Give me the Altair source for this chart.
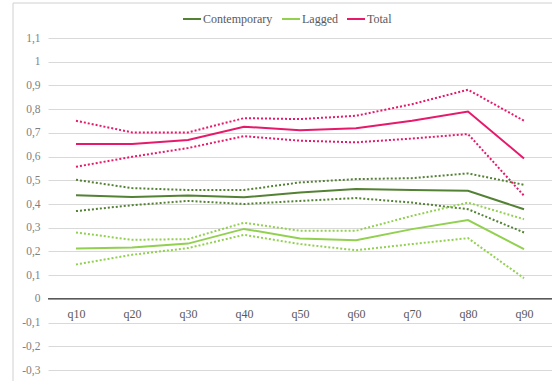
import altair as alt
import pandas as pd

quantiles = ["q10", "q20", "q30", "q40", "q50", "q60", "q70", "q80", "q90"]

# Point estimates
contemporary = [0.437, 0.430, 0.436, 0.428, 0.449, 0.463, 0.459, 0.456, 0.378]
lagged = [0.212, 0.217, 0.233, 0.295, 0.255, 0.247, 0.294, 0.332, 0.210]
total = [0.653, 0.653, 0.670, 0.726, 0.711, 0.719, 0.751, 0.790, 0.592]

# Confidence bounds
contemporary_hi = [0.502, 0.467, 0.459, 0.459, 0.491, 0.505, 0.509, 0.529, 0.481]
contemporary_lo = [0.370, 0.395, 0.413, 0.400, 0.413, 0.425, 0.406, 0.378, 0.280]
lagged_hi = [0.280, 0.249, 0.252, 0.321, 0.287, 0.287, 0.350, 0.406, 0.336]
lagged_lo = [0.145, 0.186, 0.214, 0.270, 0.231, 0.205, 0.231, 0.256, 0.087]
total_hi = [0.751, 0.702, 0.702, 0.762, 0.758, 0.772, 0.821, 0.882, 0.751]
total_lo = [0.557, 0.599, 0.636, 0.686, 0.667, 0.660, 0.676, 0.695, 0.435]

series_names = ["Contemporary", "Lagged", "Total"]
series_colors = ["#548235", "#92D050", "#E6196B"]
y_ticks = [-0.3, -0.2, -0.1, 0, 0.1, 0.2, 0.3, 0.4, 0.5, 0.6, 0.7, 0.8, 0.9, 1.0, 1.1]

rows = []
for name, est, hi, lo in [
    ("Contemporary", contemporary, contemporary_hi, contemporary_lo),
    ("Lagged", lagged, lagged_hi, lagged_lo),
    ("Total", total, total_hi, total_lo),
]:
    for q, e, h, l in zip(quantiles, est, hi, lo):
        rows.append({"q": q, "series": name, "band": "est", "value": e})
        rows.append({"q": q, "series": name, "band": "hi", "value": h})
        rows.append({"q": q, "series": name, "band": "lo", "value": l})
df = pd.DataFrame(rows)

FONT = "Liberation Serif, DejaVu Serif, serif"
GREY = "#595959"

x_axis = alt.Axis(
    title=None,
    labelAngle=0,
    ticks=False,
    domain=False,
    offset=-72,
    labelPadding=10,
    labelFont=FONT,
    labelFontSize=12,
    labelColor=GREY,
    labelOverlap=False,
    grid=False,
)
x_scale = alt.Scale(domain=quantiles, paddingInner=0, paddingOuter=0.5)
y_scale = alt.Scale(domain=[-0.3, 1.1], nice=False)
y_axis = alt.Axis(
    title=None,
    values=y_ticks,
    labelExpr="replace(toString(round(datum.value*10)/10), '.', ',')",
    labelOverlap=False,
    labelBound=False,
    ticks=False,
    domain=False,
    labelPadding=8,
    labelFont=FONT,
    labelFontSize=11.5,
    labelColor="#7F7F7F",
    gridColor="#D9D9D9",
    gridWidth=1,
)
color_scale = alt.Scale(domain=series_names, range=series_colors)

base = alt.Chart(df)

solid = base.transform_filter("datum.band == 'est'").mark_line(strokeWidth=2).encode(
    x=alt.X("q:N", scale=x_scale, axis=x_axis),
    y=alt.Y("value:Q", scale=y_scale, axis=y_axis),
    color=alt.Color(
        "series:N",
        scale=color_scale,
        sort=series_names,
        legend=alt.Legend(
            title=None,
            orient="none",
            direction="horizontal",
            legendX=134,
            legendY=-29,
            symbolType="stroke",
            symbolSize=324,
            symbolStrokeWidth=2,
            labelFont=FONT,
            labelFontSize=12,
            labelColor=GREY,
            labelOffset=1,
            columnPadding=5,
        ),
    ),
)

dotted = base.transform_filter("datum.band != 'est'").mark_line(
    strokeWidth=2, strokeDash=[2, 2]
).encode(
    x=alt.X("q:N", scale=x_scale, axis=x_axis),
    y=alt.Y("value:Q", scale=y_scale, axis=y_axis),
    color=alt.Color("series:N", scale=color_scale, legend=None),
    detail="band:N",
)

zero = pd.DataFrame({"v": [0]})
zero_line = alt.Chart(zero).mark_rule(color=GREY, strokeWidth=1.5).encode(
    y=alt.Y("v:Q", scale=y_scale, axis=y_axis),
    x=alt.value(0),
    x2=alt.value(504),
)

# Outer chart frame
frame = alt.Chart(zero).mark_rect(
    fill="white", fillOpacity=0, stroke="#D0D0D0", strokeWidth=1
).encode(
    x=alt.value(-35), x2=alt.value(560), y=alt.value(-35), y2=alt.value(400)
)

chart = (
    alt.layer(frame, zero_line, dotted, solid)
    .resolve_legend(color="independent")
    .properties(
        width=504,
        height=332,
        autosize=alt.AutoSizeParams(type="none"),
        padding={"left": 48, "top": 38, "right": 0, "bottom": 11},
        background="white",
    )
    .configure_view(stroke=None)
    .configure_axisY(labelOverlap=False)
)

chart.save("out.html", embed_options={"renderer": "svg", "actions": False})
